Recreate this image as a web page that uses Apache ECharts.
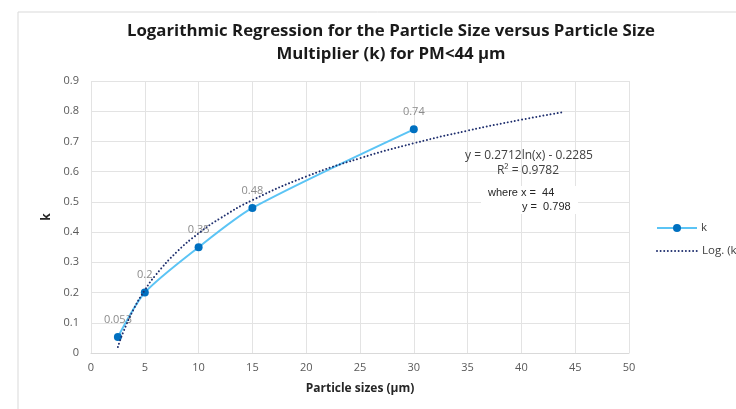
<!DOCTYPE html>
<html><head><meta charset="utf-8">
<script src="https://cdn.jsdelivr.net/npm/echarts@6/dist/echarts.min.js"></script>
<style>html,body{margin:0;padding:0;background:#fff}#c{width:736px;height:409px}</style>
</head><body><div id="c"></div>
<script>
var particleSizes = [2.5, 5, 10, 15, 30];
var kValues = [0.053, 0.2, 0.35, 0.48, 0.74];
var kLabels = ['0.053', '0.2', '0.35', '0.48', '0.74'];
var trendX = [2.5, 3, 4, 5, 6, 8, 10, 12, 15, 20, 25, 30, 35, 40, 44];
var trendY = [0.020, 0.0694, 0.1475, 0.208, 0.2574, 0.3354, 0.396, 0.4454, 0.5059, 0.5839, 0.6445, 0.6939, 0.7357, 0.7719, 0.7978];
var titleLines = ['Logarithmic Regression for the Particle Size versus Particle Size', 'Multiplier (k) for PM<44 µm'];
var legendNames = ['k', 'Log. (k)'];

var kData = particleSizes.map(function(x, i){ return [x, kValues[i]]; });
var trendData = trendX.map(function(x, i){ return [x, trendY[i]]; });

var chart = echarts.init(document.getElementById('c'));
var ff = '"Open Sans", "Noto Sans", sans-serif';
var navy = '#1f2f6e';
var dotted = { stroke: navy, lineWidth: 2, lineDash: [0.01, 3.6], lineCap: 'round' };
chart.setOption({
  animation: false,
  backgroundColor: '#fff',
  title: {
    text: titleLines.join('\n'),
    left: 386, top: 15, textAlign: 'center',
    textStyle: { fontFamily: ff, fontSize: 16.8, fontWeight: 'bold', color: '#1a1a1a', lineHeight: 23 }
  },
  grid: { left: 91, right: 107, top: 81, bottom: 56, containLabel: false },
  xAxis: {
    type: 'value', min: 0, max: 50, interval: 5,
    name: 'Particle sizes (µm)', nameLocation: 'middle', nameGap: 30,
    nameTextStyle: { fontFamily: ff, fontSize: 12, fontWeight: 'bold', color: '#262626' },
    axisLine: { show: true, lineStyle: { color: '#d9d9d9' } },
    axisTick: { show: false },
    axisLabel: { fontFamily: ff, fontSize: 11, color: '#595959', margin: 9 },
    splitLine: { show: true, lineStyle: { color: '#e3e3e3' } }
  },
  yAxis: {
    type: 'value', min: 0, max: 0.9, interval: 0.1,
    name: 'k', nameLocation: 'middle', nameGap: 34, nameRotate: 90,
    nameTextStyle: { fontFamily: ff, fontSize: 12, fontWeight: 'bold', color: '#262626' },
    axisLine: { show: false }, axisTick: { show: false },
    axisLabel: { fontFamily: ff, fontSize: 11, color: '#595959', margin: 12,
      formatter: function(v){ return v === 0 ? '0' : v.toFixed(1); } },
    splitLine: { show: true, lineStyle: { color: '#e3e3e3' } }
  },
  series: [
    {
      name: legendNames[0], type: 'line', data: kData, smooth: 0.25,
      symbol: 'circle', symbolSize: 8,
      itemStyle: { color: '#0070c0' },
      lineStyle: { color: '#5bc4f5', width: 2 },
      label: { show: true, position: 'top', distance: 8, fontFamily: ff, fontSize: 11, color: '#8c8c8c',
        formatter: function(p){ return kLabels[p.dataIndex]; } },
      labelLayout: { hideOverlap: false },
      z: 3
    },
    {
      name: legendNames[1], type: 'line', data: trendData, smooth: true,
      showSymbol: false, symbol: 'none',
      lineStyle: { color: navy, width: 2, type: [0.01, 3.6], cap: 'round' },
      z: 4
    }
  ],
  graphic: [
    { type: 'rect', shape: { x: 18, y: 12, width: 730, height: 400 }, style: { fill: 'none', stroke: '#d9d9d9', lineWidth: 1 }, silent: true, z: -1 },
    { type: 'text', x: 529, y: 150, style: { text: 'y = 0.2712ln(x) - 0.2285', fontFamily: ff, fontSize: 12, fill: '#404040', align: 'center' }, z: 10 },
    { type: 'text', x: 528, y: 165, style: { text: 'R² = 0.9782', fontFamily: ff, fontSize: 12, fill: '#404040', align: 'center' }, z: 10 },
    { type: 'rect', shape: { x: 481, y: 186, width: 97, height: 28 }, style: { fill: '#ffffff' }, z: 9 },
    { type: 'text', x: 488, y: 187, style: { text: 'where x =  44', fontFamily: 'Liberation Sans, Arial, sans-serif', fontSize: 11, fill: '#262626' }, z: 10 },
    { type: 'text', x: 522, y: 201, style: { text: 'y =  0.798', fontFamily: 'Liberation Sans, Arial, sans-serif', fontSize: 11, fill: '#262626' }, z: 10 },
    { type: 'line', shape: { x1: 657, y1: 228, x2: 697, y2: 228 }, style: { stroke: '#5bc4f5', lineWidth: 2 }, z: 10 },
    { type: 'circle', shape: { cx: 677, cy: 228, r: 4 }, style: { fill: '#0070c0' }, z: 11 },
    { type: 'text', x: 701, y: 228, style: { text: legendNames[0], fontFamily: ff, fontSize: 11.5, fill: '#404040', verticalAlign: 'middle' }, z: 10 },
    { type: 'line', shape: { x1: 657, y1: 251, x2: 697, y2: 251 }, style: dotted, z: 10 },
    { type: 'text', x: 702, y: 251, style: { text: legendNames[1], fontFamily: ff, fontSize: 11.5, fill: '#404040', verticalAlign: 'middle' }, z: 10 }
  ]
});
</script></body></html>
